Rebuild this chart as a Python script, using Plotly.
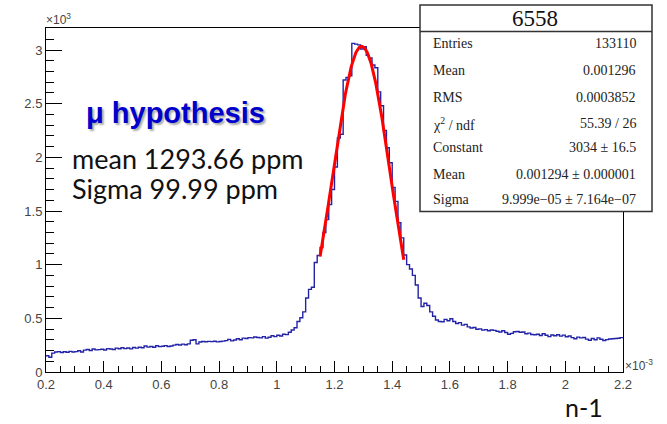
import numpy as np
import plotly.graph_objects as go

# Histogram of n-1 (in units of 1e-3): 200 bins from 0.2 to 2.2
x_min, x_max, n_bins = 0.2, 2.2, 200
counts = [
    152, 138, 176, 186, 190, 182, 188, 184, 192, 186,
    190, 198, 186, 204, 210, 200, 214, 206, 208, 212,
    205, 218, 214, 210, 222, 216, 226, 218, 224, 215,
    228, 222, 230, 226, 242, 232, 238, 230, 244, 236,
    240, 246, 238, 242, 250, 256, 252, 260, 254, 262,
    296, 300, 262, 280, 284, 282, 285, 283, 286, 281,
    284, 288, 292, 304, 290, 298, 310, 300, 316, 312,
    320, 318, 326, 322, 318, 330, 316, 324, 338, 330,
    342, 335, 352, 348, 370, 392, 412, 470, 505, 560,
    690, 770, 790, 1020, 1085, 1160, 1300, 1420, 1560, 1700,
    1910, 2180, 2215, 2720, 2745, 2760, 3062, 3055, 3048, 3010,
    3030, 2950, 2925, 2860, 2835, 2610, 2480, 2250, 2090, 1950,
    1720, 1590, 1390, 1250, 1090, 1000, 960, 900, 810, 690,
    610, 640, 620, 560, 520, 485, 470, 468, 490, 478,
    496, 470, 452, 460, 437, 444, 420, 410, 415, 398,
    402, 390, 395, 384, 392, 388, 380, 372, 385, 368,
    352, 360, 375, 378, 370, 372, 356, 362, 350, 347,
    352, 340, 356, 343, 330, 345, 338, 347, 334, 344,
    328, 336, 320, 310, 325, 318, 322, 306, 296, 312,
    300, 318, 305, 294, 302, 307, 310, 312, 315, 320,
]

# Gaussian fit result (mean and sigma in units of 1e-3)
fit_constant = 3034.0
fit_mean = 1.294
fit_sigma = 0.09999
fit_range = (1.15, 1.44)

stats_title = "6558"
stats_labels = ["Entries", "Mean", "RMS", "χ<sup>2</sup> / ndf", "Constant", "Mean", "Sigma"]
stats_values = ["133110", "0.001296", "0.0003852", "55.39 / 26", "3034 ± 16.5",
                "0.001294 ± 0.000001", "9.999e−05 ± 7.164e−07"]

x_ticks = [0.2, 0.4, 0.6, 0.8, 1.0, 1.2, 1.4, 1.6, 1.8, 2.0, 2.2]
x_ticktext = ["0.2", "0.4", "0.6", "0.8", "1", "1.2", "1.4", "1.6", "1.8", "2", "2.2"]
y_ticks = [0, 500, 1000, 1500, 2000, 2500, 3000]
y_ticktext = ["0", "0.5", "1", "1.5", "2", "2.5", "3"]

edges = np.linspace(x_min, x_max, n_bins + 1)
step_x = list(edges)
step_y = list(counts) + [counts[-1]]

fx = np.linspace(fit_range[0], fit_range[1], 200)
fy = fit_constant * np.exp(-0.5 * ((fx - fit_mean) / fit_sigma) ** 2)

W, H = 667, 424
L, R, T, B = 46, 623, 28, 372

def px(x):
    return (x - L) / (R - L)

def py(y):
    return (B - y) / (B - T)

fig = go.Figure()
fig.add_trace(go.Scatter(x=step_x, y=step_y, mode="lines", line_shape="hv",
                         line=dict(color="#2323a8", width=1.4), hoverinfo="skip"))
fig.add_trace(go.Scatter(x=fx, y=fy, mode="lines",
                         line=dict(color="#ff0000", width=3), hoverinfo="skip"))

axis_common = dict(showline=True, linecolor="black", linewidth=1, mirror=True,
                   showgrid=False, zeroline=False, ticks="inside", tickcolor="black",
                   tickfont=dict(family="Liberation Sans, Arial", size=13, color="#444"))

fig.update_xaxes(range=[x_min, x_max], tickvals=x_ticks, ticktext=x_ticktext, ticklen=11,
                 minor=dict(ticks="inside", dtick=0.05, tick0=0.2, ticklen=6, tickcolor="black"),
                 **axis_common)
fig.update_yaxes(range=[0, 3205], tickvals=y_ticks, ticktext=y_ticktext, ticklen=16,
                 minor=dict(ticks="inside", dtick=100, tick0=0, ticklen=8, tickcolor="black"),
                 **axis_common)

shapes = [
    dict(type="rect", xref="paper", yref="paper", x0=px(420), x1=px(652), y0=py(211.5), y1=py(5),
         line=dict(color="#333", width=1.5), fillcolor="white", layer="above"),
    dict(type="line", xref="paper", yref="paper", x0=px(420), x1=px(652), y0=py(31.5), y1=py(31.5),
         line=dict(color="#333", width=1.5), layer="above"),
]

serif = "Liberation Serif, Times New Roman, serif"
annotations = [
    dict(text=stats_title, x=px(535), y=py(18.5), xanchor="center", yanchor="middle",
         font=dict(family=serif, size=23, color="#111")),
]
row_y = [43.7, 70.7, 97.3, 123.5, 147, 174.3, 199]
for lab, val, yy in zip(stats_labels, stats_values, row_y):
    annotations.append(dict(text=lab, x=px(431), y=py(yy), xanchor="left", yanchor="middle",
                            font=dict(family=serif, size=14, color="#222")))
    annotations.append(dict(text=val, x=px(638), y=py(yy), xanchor="right", yanchor="middle",
                            font=dict(family=serif, size=14, color="#222")))

annotations += [
    dict(text="×10<sup>3</sup>", x=px(44), y=py(19), xanchor="left", yanchor="middle",
         font=dict(family="Liberation Sans, Arial", size=12, color="#444")),
    dict(text="×10<sup>-3</sup>", x=px(623), y=py(365), xanchor="left", yanchor="middle",
         font=dict(family="Liberation Sans, Arial", size=12, color="#444")),
    dict(text="<b>μ hypothesis</b>", x=px(84), y=py(113), xanchor="left", yanchor="middle",
         font=dict(family="Liberation Sans, Arial", size=29, color="#0000cc",
                   shadow="2px 2px 2px #aaa")),
    dict(text="mean 1293.66 ppm", x=px(70), y=py(158), xanchor="left", yanchor="middle",
         font=dict(family="Lato", size=27, color="#111")),
    dict(text="Sigma 99.99 ppm", x=px(70), y=py(188), xanchor="left", yanchor="middle",
         font=dict(family="Lato", size=27, color="#111")),
    dict(text="n-1", x=px(584), y=py(407), xanchor="center", yanchor="middle",
         font=dict(family="Lato", size=25, color="#111")),
]
for a in annotations:
    a.update(xref="paper", yref="paper", showarrow=False)

fig.update_layout(width=W, height=H, margin=dict(l=L, r=W - R, t=T, b=H - B),
                  paper_bgcolor="white", plot_bgcolor="white", showlegend=False,
                  shapes=shapes, annotations=annotations)

fig.write_html("out.html")
